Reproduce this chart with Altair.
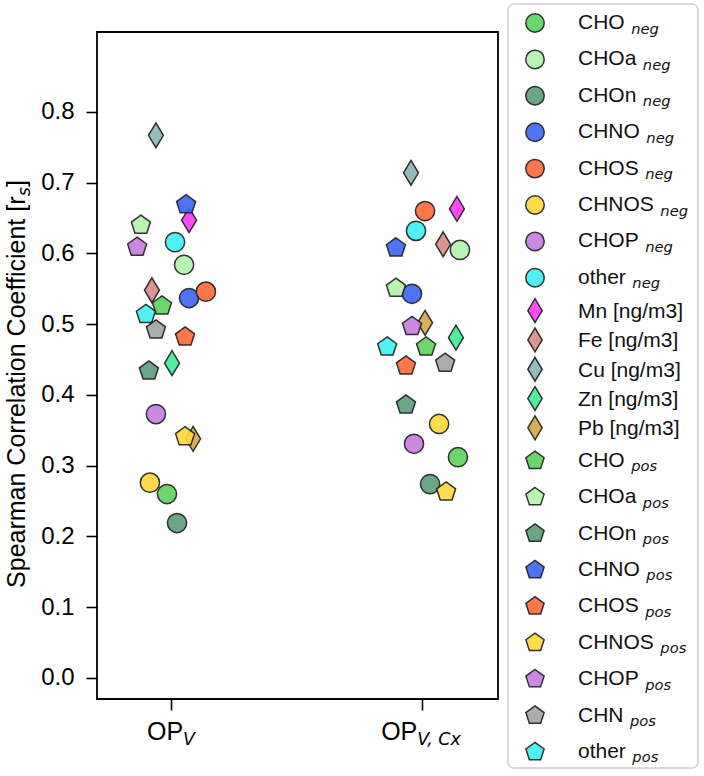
import altair as alt
import pandas as pd

# ---------------- data ----------------
series_names = ["CHO", "CHOa", "CHOn", "CHNO", "CHOS", "CHNOS", "CHOP", "other",
                "Mn [ng/m3]", "Fe [ng/m3]", "Cu [ng/m3]", "Zn [ng/m3]", "Pb [ng/m3]",
                "CHO", "CHOa", "CHOn", "CHNO", "CHOS", "CHNOS", "CHOP", "CHN", "other"]
series_mode = ["neg"] * 8 + [""] * 5 + ["pos"] * 9
series_kind = ["circle"] * 8 + ["diamond"] * 5 + ["pentagon"] * 9
series_colors = ["#5ed35e", "#b4f3ae", "#5d9e7d", "#3f68f2", "#ff6b3c", "#ffd83e", "#c97fe0", "#42eff2",
                 "#ff3df5", "#d98b89", "#8db6b6", "#40ec98", "#d5a94e",
                 "#5ed35e", "#b4f3ae", "#5d9e7d", "#3f68f2", "#ff6b3c", "#ffd83e", "#c97fe0", "#a5a5a5", "#42eff2"]

# Spearman r_s per series for the two OP metrics
rs_op_v = [0.260, 0.584, 0.219, 0.537, 0.546, 0.276, 0.373, 0.616,
           0.647, 0.548, 0.767, 0.445, 0.338,
           0.526, 0.640, 0.434, 0.669, 0.482, 0.341, 0.609, 0.492, 0.514]
rs_op_v_cx = [0.312, 0.605, 0.274, 0.543, 0.660, 0.359, 0.331, 0.632,
              0.663, 0.613, 0.714, 0.481, 0.502,
              0.468, 0.551, 0.386, 0.608, 0.441, 0.263, 0.497, 0.445, 0.468]

# strip-plot jitter (category units)
jitter_op_v = [-0.016, 0.052, 0.024, 0.072, 0.139, -0.084, -0.060, 0.016,
               0.072, -0.076, -0.060, 0.004, 0.088,
               -0.036, -0.120, -0.088, 0.060, 0.056, 0.056, -0.135, -0.060, -0.100]
jitter_op_v_cx = [0.143, 0.151, 0.032, -0.040, 0.012, 0.068, -0.032, -0.024,
                  0.139, 0.084, -0.044, 0.135, 0.012,
                  0.016, -0.104, -0.064, -0.104, -0.064, 0.096, -0.040, 0.092, -0.139]

group_pos = [0, 1]
group_main = ["OP", "OP"]
group_sub = ["V", "V, Cx"]

y_ticks = [0.0, 0.1, 0.2, 0.3, 0.4, 0.5, 0.6, 0.7, 0.8]

# ---------------- styling helpers ----------------
FONT = "Liberation Sans"
SUBFONT = "DejaVu Sans"
W, H = 401, 667
PAD = {"left": 97, "top": 32, "right": 206, "bottom": 77}

ARIAL = {" ": 278, "[": 278, "]": 278, "/": 278, ".": 278, "3": 556,
         "C": 722, "F": 611, "H": 722, "M": 833, "N": 722, "O": 778, "P": 667,
         "S": 667, "V": 667, "Z": 611,
         "a": 556, "b": 556, "c": 500, "e": 556, "f": 278, "g": 556, "h": 556,
         "i": 222, "l": 222, "m": 833, "n": 556, "o": 556, "p": 556, "r": 333,
         "s": 500, "t": 278, "u": 556, "x": 500}
DEJAVU = {"n": 634, "e": 615, "g": 635, "p": 635, "o": 612, "s": 521,
          "V": 684, "C": 698, "x": 592, ",": 318, " ": 318}


def width(s, size, table=ARIAL):
    return sum(table.get(c, 556) for c in s) * size / 1000.0


DIAMOND = "M0,-1L0.6,0L0,1L-0.6,0Z"
PENTAGON = "M0,-1L0.951,-0.309L0.588,0.809L-0.588,0.809L-0.951,-0.309Z"
SHAPES = {"circle": ("circle", 370), "diamond": (DIAMOND, 620), "pentagon": (PENTAGON, 400)}

keys = [f"{n} {m}".strip() for n, m in zip(series_names, series_mode)]
color_scale = alt.Scale(domain=keys, range=series_colors)

x_scale = alt.Scale(domain=[-0.2948, 1.3026], nice=False, zero=False)
y_scale = alt.Scale(domain=[-0.0297, 0.913], nice=False, zero=False)
px_x = alt.Scale(domain=[0, W], nice=False, zero=False)
px_y = alt.Scale(domain=[0, H], nice=False, zero=False, reverse=True)

marker_style = dict(filled=True, fillOpacity=0.92, stroke="#1e1e1e", strokeWidth=1.5, strokeOpacity=0.9)

# ---------------- scatter points ----------------
rows = []
for g, vals, jit in [(group_pos[0], rs_op_v, jitter_op_v), (group_pos[1], rs_op_v_cx, jitter_op_v_cx)]:
    for i, (v, j) in enumerate(zip(vals, jit)):
        rows.append({"x": g + j, "rs": v, "key": keys[i], "kind": series_kind[i], "order": i})
pts = pd.DataFrame(rows)

x_axis = alt.Axis(values=group_pos, labels=False, title=None, grid=False, domain=False,
                  tickSize=11, tickWidth=1.6, tickColor="black")
y_axis = alt.Axis(values=y_ticks, format=".1f", title=None, grid=False, domain=False,
                  tickSize=11, tickWidth=1.6, tickColor="black", labelPadding=12,
                  labelFont=FONT, labelFontSize=24, labelColor="black")

point_layers = []
for n, kind in enumerate(["circle", "diamond", "pentagon"]):
    shape, size = SHAPES[kind]
    point_layers.append(
        alt.Chart(pts).transform_filter(f"datum.kind == '{kind}'").mark_point(
            shape=shape, size=size, **marker_style).encode(
            x=alt.X("x:Q", scale=x_scale, axis=x_axis if n == 0 else None),
            y=alt.Y("rs:Q", scale=y_scale, axis=y_axis if n == 0 else None),
            color=alt.Color("key:N", scale=color_scale, legend=None),
            order=alt.Order("order:Q"),
        )
    )

# ---------------- x category labels (OP with italic subscript) ----------------
LAB_FS, LAB_SUB_FS = 25, 17.5
xlab_layers = []
for g, main, sub in zip(group_pos, group_main, group_sub):
    wm = width(main, LAB_FS)
    ws = width(sub, LAB_SUB_FS, DEJAVU)
    total = wm + ws
    d = pd.DataFrame({"g": [g]})
    xlab_layers.append(alt.Chart(d).mark_text(
        text=main, font=FONT, fontSize=LAB_FS, align="left", baseline="alphabetic",
        dx=-total / 2, color="black").encode(
        x=alt.X("g:Q", scale=x_scale, axis=None), y=alt.value(H + 41)))
    xlab_layers.append(alt.Chart(d).mark_text(
        text=sub, font=SUBFONT, fontSize=LAB_SUB_FS, fontStyle="italic", align="left",
        baseline="alphabetic", dx=-total / 2 + wm, color="black").encode(
        x=alt.X("g:Q", scale=x_scale, axis=None), y=alt.value(H + 46)))

# ---------------- y axis title (rotated, with subscript s) ----------------
TITLE_FS, TITLE_SUB_FS = 25, 17.5
t_main, t_sub, t_close = "Spearman Correlation Coefficient [r", "s", "]"
wm = width(t_main, TITLE_FS)
ws = width(t_sub, TITLE_SUB_FS, DEJAVU)
wc = width(t_close, TITLE_FS)
y_start = 352 + (wm + ws + wc) / 2
tx = -72
one = pd.DataFrame({"a": [0]})
title_layers = [
    alt.Chart(one).mark_text(text=t_main, font=FONT, fontSize=TITLE_FS, angle=270, align="left",
                             baseline="alphabetic", color="black").encode(
        x=alt.value(tx), y=alt.value(y_start)),
    alt.Chart(one).mark_text(text=t_sub, font=SUBFONT, fontSize=TITLE_SUB_FS, fontStyle="italic",
                             angle=270, align="left", baseline="alphabetic", color="black").encode(
        x=alt.value(tx + 5), y=alt.value(y_start - wm)),
    alt.Chart(one).mark_text(text=t_close, font=FONT, fontSize=TITLE_FS, angle=270, align="left",
                             baseline="alphabetic", color="black").encode(
        x=alt.value(tx), y=alt.value(y_start - wm - ws)),
]

# ---------------- legend ----------------
LEG_FS, SUB_FS = 21, 14.7
ROW_SUB, ROW_PLAIN = 36.4, 29.3
heights = [ROW_SUB if m else ROW_PLAIN for m in series_mode]
centers = []
c = -9.0
for i, h in enumerate(heights):
    if i > 0:
        c += (heights[i - 1] + h) / 2
    centers.append(c)

text_x = 481
leg = pd.DataFrame({
    "key": keys,
    "kind": series_kind,
    "name": series_names,
    "mode": series_mode,
    "ly": centers,
    "ly_text": [cy + (6.0 if m else 7.5) for cy, m in zip(centers, series_mode)],
    "ly_sub": [cy + 10.5 for cy in centers],
    "lx_text": [text_x] * len(keys),
    "lx_sub": [text_x + width(n, LEG_FS) + 6.5 for n in series_names],
})

frame = alt.Chart(one).mark_rect(fill="white", stroke="#d0d0d0", strokeWidth=1.5, cornerRadius=6).encode(
    x=alt.value(411), x2=alt.value(601), y=alt.value(-28), y2=alt.value(736))

leg_marks = []
for kind in ["circle", "diamond", "pentagon"]:
    shape, size = SHAPES[kind]
    leg_marks.append(
        alt.Chart(leg).transform_filter(f"datum.kind == '{kind}'").mark_point(
            shape=shape, size=size * 0.92, **marker_style).encode(
            x=alt.value(438),
            y=alt.Y("ly:Q", scale=px_y, axis=None),
            color=alt.Color("key:N", scale=color_scale, legend=None),
        )
    )
leg_text = alt.Chart(leg).mark_text(font=FONT, fontSize=LEG_FS, align="left", baseline="alphabetic",
                                    color="#111111").encode(
    x=alt.X("lx_text:Q", scale=px_x, axis=None),
    y=alt.Y("ly_text:Q", scale=px_y, axis=None),
    text="name:N",
)
leg_sub = alt.Chart(leg).transform_filter("datum.mode != ''").mark_text(
    font=SUBFONT, fontSize=SUB_FS, fontStyle="italic", align="left", baseline="alphabetic",
    color="#111111").encode(
    x=alt.X("lx_sub:Q", scale=px_x, axis=None),
    y=alt.Y("ly_sub:Q", scale=px_y, axis=None),
    text="mode:N",
)

chart = alt.layer(
    frame, *point_layers, *xlab_layers, *title_layers, *leg_marks, leg_text, leg_sub
).resolve_scale(
    x="independent", y="independent"
).properties(
    width=W, height=H, padding=PAD, autosize=alt.AutoSizeParams(type="none"), background="white"
).configure_view(
    stroke="black", strokeWidth=1.8
)

chart.save("out.html", embed_options={"renderer": "svg", "actions": False})
